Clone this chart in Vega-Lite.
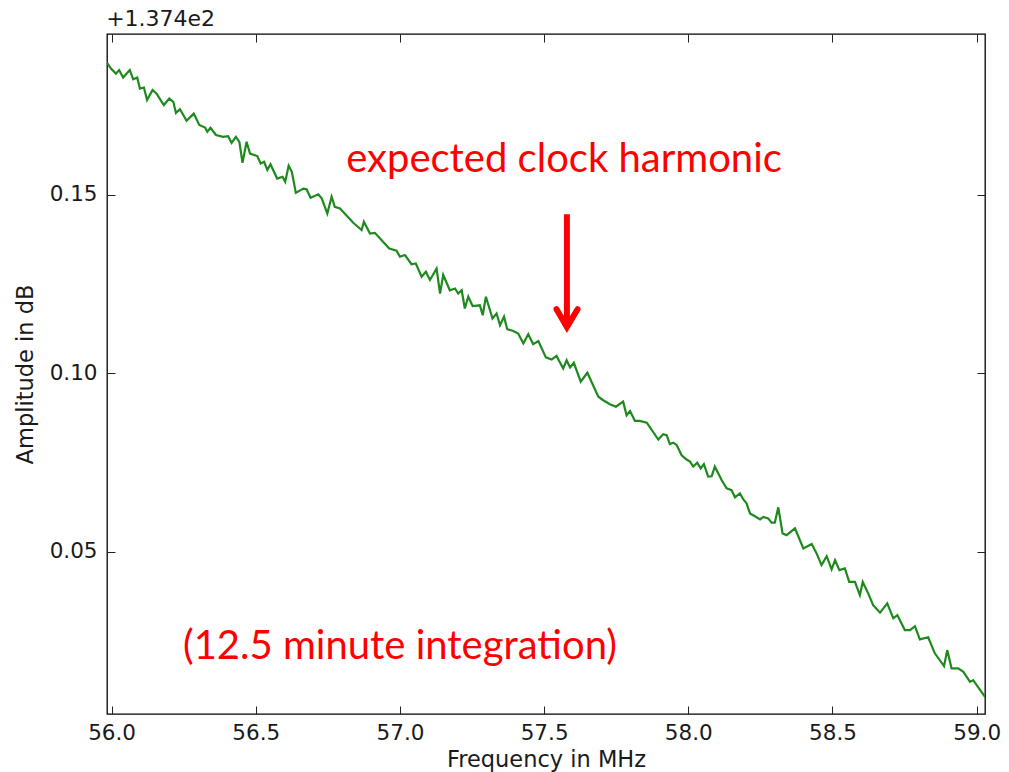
{
  "$schema": "https://vega.github.io/schema/vega-lite/v6.json",
  "width": 878,
  "height": 680,
  "autosize": {"type": "none"},
  "padding": {"left": 107, "top": 34, "right": 24, "bottom": 58},
  "background": "white",
  "config": {
    "view": {"stroke": "#000000", "strokeWidth": 1.3},
    "axis": {"domain": false, "grid": false, "tickColor": "#222222", "tickSize": -8, "tickWidth": 1, "labelFont": "DejaVu Sans", "labelFontSize": 21.5, "labelColor": "#1a1a1a", "titleFont": "DejaVu Sans", "titleFontSize": 22.5, "titleFontWeight": "normal", "titleColor": "#1a1a1a"}
  },
  "datasets": {
    "spectrum": [
      {"f":55.984,"a":0.1869},{"f":56.000,"a":0.1851},{"f":56.015,"a":0.1839},{"f":56.026,"a":0.1849},{"f":56.040,"a":0.1828},{"f":56.063,"a":0.1849},{"f":56.075,"a":0.1823},{"f":56.089,"a":0.1828},{"f":56.098,"a":0.1797},{"f":56.112,"a":0.1800},
      {"f":56.123,"a":0.1765},{"f":56.142,"a":0.1793},{"f":56.156,"a":0.1783},{"f":56.181,"a":0.1751},{"f":56.200,"a":0.1769},{"f":56.214,"a":0.1760},{"f":56.223,"a":0.1729},{"f":56.237,"a":0.1739},{"f":56.260,"a":0.1707},{"f":56.285,"a":0.1727},
      {"f":56.304,"a":0.1695},{"f":56.324,"a":0.1688},{"f":56.332,"a":0.1676},{"f":56.343,"a":0.1687},{"f":56.362,"a":0.1667},{"f":56.387,"a":0.1662},{"f":56.404,"a":0.1664},{"f":56.416,"a":0.1645},{"f":56.431,"a":0.1662},{"f":56.443,"a":0.1648},
      {"f":56.454,"a":0.1589},{"f":56.468,"a":0.1648},{"f":56.480,"a":0.1615},{"f":56.505,"a":0.1608},{"f":56.517,"a":0.1587},{"f":56.529,"a":0.1592},{"f":56.540,"a":0.1569},{"f":56.551,"a":0.1585},{"f":56.574,"a":0.1545},{"f":56.593,"a":0.1550},
      {"f":56.602,"a":0.1536},{"f":56.614,"a":0.1581},{"f":56.625,"a":0.1564},{"f":56.639,"a":0.1505},{"f":56.665,"a":0.1517},{"f":56.676,"a":0.1515},{"f":56.690,"a":0.1491},{"f":56.717,"a":0.1501},{"f":56.729,"a":0.1489},{"f":56.748,"a":0.1447},
      {"f":56.763,"a":0.1494},{"f":56.774,"a":0.1466},{"f":56.792,"a":0.1461},{"f":56.838,"a":0.1421},{"f":56.867,"a":0.1401},{"f":56.875,"a":0.1424},{"f":56.896,"a":0.1391},{"f":56.913,"a":0.1393},{"f":56.931,"a":0.1377},{"f":56.963,"a":0.1349},
      {"f":56.988,"a":0.1343},{"f":57.000,"a":0.1326},{"f":57.017,"a":0.1331},{"f":57.040,"a":0.1305},{"f":57.055,"a":0.1307},{"f":57.075,"a":0.1270},{"f":57.090,"a":0.1284},{"f":57.104,"a":0.1261},{"f":57.127,"a":0.1293},{"f":57.139,"a":0.1223},
      {"f":57.150,"a":0.1275},{"f":57.173,"a":0.1232},{"f":57.191,"a":0.1237},{"f":57.202,"a":0.1223},{"f":57.214,"a":0.1232},{"f":57.225,"a":0.1181},{"f":57.237,"a":0.1214},{"f":57.252,"a":0.1188},{"f":57.277,"a":0.1190},{"f":57.287,"a":0.1162},
      {"f":57.298,"a":0.1214},{"f":57.321,"a":0.1153},{"f":57.335,"a":0.1167},{"f":57.347,"a":0.1134},{"f":57.361,"a":0.1158},{"f":57.372,"a":0.1123},{"f":57.393,"a":0.1118},{"f":57.410,"a":0.1111},{"f":57.428,"a":0.1083},{"f":57.445,"a":0.1109},
      {"f":57.462,"a":0.1081},{"f":57.480,"a":0.1090},{"f":57.506,"a":0.1044},{"f":57.526,"a":0.1038},{"f":57.543,"a":0.1048},{"f":57.566,"a":0.1013},{"f":57.578,"a":0.1036},{"f":57.590,"a":0.1016},{"f":57.603,"a":0.1029},{"f":57.627,"a":0.0976},
      {"f":57.650,"a":0.1001},{"f":57.688,"a":0.0934},{"f":57.705,"a":0.0924},{"f":57.728,"a":0.0913},{"f":57.749,"a":0.0906},{"f":57.774,"a":0.0920},{"f":57.786,"a":0.0882},{"f":57.798,"a":0.0894},{"f":57.815,"a":0.0866},{"f":57.832,"a":0.0866},
      {"f":57.856,"a":0.0861},{"f":57.896,"a":0.0814},{"f":57.913,"a":0.0829},{"f":57.925,"a":0.0826},{"f":57.936,"a":0.0801},{"f":57.948,"a":0.0805},{"f":57.960,"a":0.0798},{"f":57.977,"a":0.0770},{"f":57.994,"a":0.0758},{"f":58.006,"a":0.0752},
      {"f":58.017,"a":0.0738},{"f":58.031,"a":0.0749},{"f":58.043,"a":0.0733},{"f":58.054,"a":0.0745},{"f":58.069,"a":0.0710},{"f":58.081,"a":0.0711},{"f":58.092,"a":0.0738},{"f":58.116,"a":0.0700},{"f":58.133,"a":0.0677},{"f":58.150,"a":0.0672},
      {"f":58.162,"a":0.0652},{"f":58.179,"a":0.0663},{"f":58.191,"a":0.0646},{"f":58.202,"a":0.0635},{"f":58.214,"a":0.0607},{"f":58.231,"a":0.0599},{"f":58.249,"a":0.0590},{"f":58.260,"a":0.0597},{"f":58.277,"a":0.0593},{"f":58.289,"a":0.0581},
      {"f":58.300,"a":0.0581},{"f":58.312,"a":0.0624},{"f":58.327,"a":0.0551},{"f":58.341,"a":0.0546},{"f":58.370,"a":0.0565},{"f":58.399,"a":0.0509},{"f":58.428,"a":0.0521},{"f":58.445,"a":0.0495},{"f":58.462,"a":0.0462},{"f":58.480,"a":0.0487},
      {"f":58.497,"a":0.0450},{"f":58.509,"a":0.0476},{"f":58.524,"a":0.0448},{"f":58.543,"a":0.0453},{"f":58.558,"a":0.0415},{"f":58.578,"a":0.0415},{"f":58.595,"a":0.0378},{"f":58.605,"a":0.0415},{"f":58.624,"a":0.0383},{"f":58.641,"a":0.0350},
      {"f":58.665,"a":0.0329},{"f":58.690,"a":0.0355},{"f":58.711,"a":0.0313},{"f":58.725,"a":0.0322},{"f":58.751,"a":0.0280},{"f":58.769,"a":0.0280},{"f":58.786,"a":0.0291},{"f":58.803,"a":0.0254},{"f":58.832,"a":0.0260},{"f":58.855,"a":0.0215},
      {"f":58.887,"a":0.0179},{"f":58.898,"a":0.0224},{"f":58.913,"a":0.0173},{"f":58.936,"a":0.0173},{"f":58.954,"a":0.0163},{"f":58.977,"a":0.0135},{"f":58.988,"a":0.0140},{"f":59.029,"a":0.0093}
    ],
    "shaft": [{"f": 57.579, "a": 0.1445, "a2": 0.1140}],
    "head": [{"f": 57.543, "a": 0.1179, "o": 1}, {"f": 57.579, "a": 0.1129, "o": 2}, {"f": 57.616, "a": 0.1179, "o": 3}],
    "notes": [
      {"f": 57.569, "a": 0.1563, "label": "expected clock harmonic"},
      {"f": 57.0, "a": 0.0199, "label": "(12.5 minute integration)"}
    ],
    "offsetText": [{"f": 55.981, "a": 0.1972, "label": "+1.374e2"}]
  },
  "layer": [
    {
      "data": {"name": "spectrum"},
      "mark": {"type": "line", "color": "#1e8a1e", "strokeWidth": 2.2, "clip": true},
      "encoding": {
        "x": {"field": "f", "type": "quantitative", "scale": {"domain": [55.984, 59.029], "nice": false, "zero": false},
              "axis": {"orient": "bottom", "title": "Frequency in MHz", "values": [56.0, 56.5, 57.0, 57.5, 58.0, 58.5, 59.0], "format": ".1f", "labelPadding": 16, "titlePadding": 5}},
        "y": {"field": "a", "type": "quantitative", "scale": {"domain": [0.0045, 0.195], "nice": false, "zero": false},
              "axis": {"orient": "left", "title": "Amplitude in dB", "values": [0.05, 0.10, 0.15], "format": ".2f", "labelPadding": 18, "titlePadding": 12}}
      }
    },
    {
      "data": {"name": "shaft"},
      "mark": {"type": "rule", "color": "#ff0000", "strokeWidth": 6},
      "encoding": {
        "x": {"field": "f", "type": "quantitative", "scale": {"domain": [55.984, 59.029], "nice": false, "zero": false},
              "axis": {"orient": "top", "title": null, "labels": false, "values": [56.0, 56.5, 57.0, 57.5, 58.0, 58.5, 59.0]}},
        "y": {"field": "a", "type": "quantitative", "scale": {"domain": [0.0045, 0.195], "nice": false, "zero": false},
              "axis": {"orient": "right", "title": null, "labels": false, "values": [0.05, 0.10, 0.15]}},
        "y2": {"field": "a2"}
      }
    },
    {
      "data": {"name": "head"},
      "mark": {"type": "line", "color": "#ff0000", "strokeWidth": 6, "strokeJoin": "miter", "strokeCap": "round"},
      "encoding": {
        "x": {"field": "f", "type": "quantitative", "scale": {"domain": [55.984, 59.029], "nice": false, "zero": false}, "axis": null},
        "y": {"field": "a", "type": "quantitative", "scale": {"domain": [0.0045, 0.195], "nice": false, "zero": false}, "axis": null},
        "order": {"field": "o", "type": "quantitative"}
      }
    },
    {
      "data": {"name": "notes"},
      "mark": {"type": "text", "color": "#ff0000", "font": "Lato", "fontSize": 40, "align": "center", "baseline": "alphabetic"},
      "encoding": {
        "x": {"field": "f", "type": "quantitative", "scale": {"domain": [55.984, 59.029], "nice": false, "zero": false}, "axis": null},
        "y": {"field": "a", "type": "quantitative", "scale": {"domain": [0.0045, 0.195], "nice": false, "zero": false}, "axis": null},
        "text": {"field": "label"}
      }
    },
    {
      "data": {"name": "offsetText"},
      "mark": {"type": "text", "color": "#1a1a1a", "font": "DejaVu Sans", "fontSize": 22, "align": "left", "baseline": "alphabetic", "clip": false},
      "encoding": {
        "x": {"field": "f", "type": "quantitative", "scale": {"domain": [55.984, 59.029], "nice": false, "zero": false}, "axis": null},
        "y": {"field": "a", "type": "quantitative", "scale": {"domain": [0.0045, 0.195], "nice": false, "zero": false}, "axis": null},
        "text": {"field": "label"}
      }
    }
  ],
  "resolve": {"axis": {"x": "independent", "y": "independent"}}
}
